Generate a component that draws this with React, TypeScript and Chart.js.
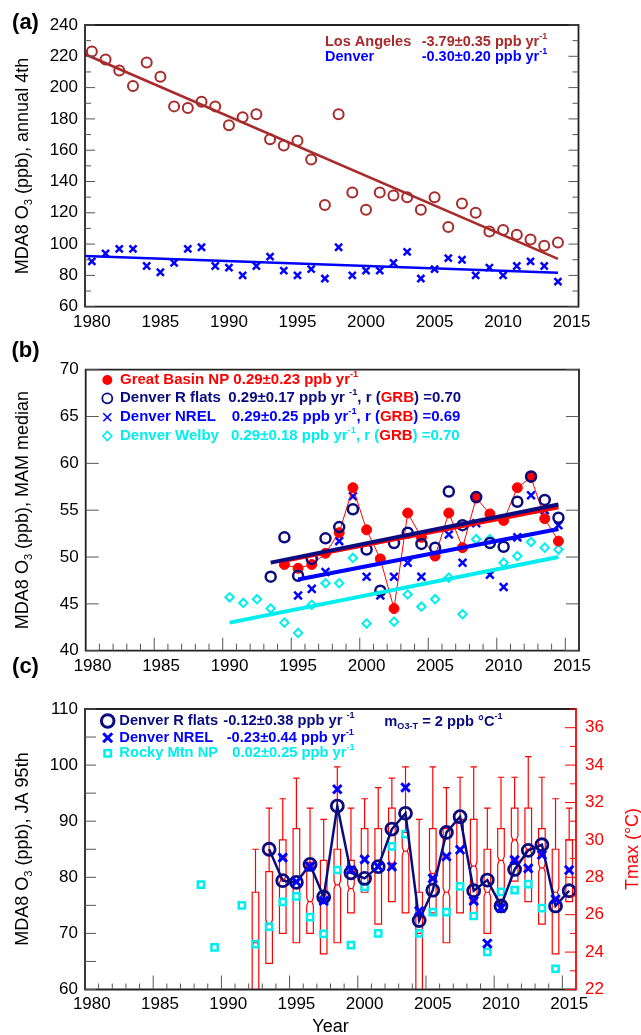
import React, { useEffect, useRef } from "react";
import { Chart, registerables } from "chart.js";
Chart.register(...registerables);

const FONT = "'Liberation Sans', Arial, Helvetica, sans-serif";
const NAVY = "#0b0b80";
const BLUE = "#0000ff";
const CYAN = "#00eeee";
const RED = "#ff0000";
const LA_RED = "#a82a2a";
const FRAME = "#222222";
const TICK = "#555555";

// ---------- shared axis labels ----------
const X_LABEL_YEARS = [1980, 1985, 1990, 1995, 2000, 2005, 2010, 2015];
const A_Y_LABELS = [60, 80, 100, 120, 140, 160, 180, 200, 220, 240];
const B_Y_LABELS = [40, 45, 50, 55, 60, 65, 70];
const C_Y_LABELS = [60, 70, 80, 90, 100, 110];
const C_Y2_LABELS = [22, 24, 26, 28, 30, 32, 34, 36];

// ---------- panel (a) ----------
const A_YEARS = [1980, 1981, 1982, 1983, 1984, 1985, 1986, 1987, 1988, 1989, 1990, 1991, 1992, 1993, 1994, 1995, 1996, 1997, 1998, 1999, 2000, 2001, 2002, 2003, 2004, 2005, 2006, 2007, 2008, 2009, 2010, 2011, 2012, 2013, 2014];
const LA_VALUES = [223, 218, 211, 201, 216, 207, 188, 187, 191, 188, 176, 181, 183, 167, 163, 166, 154, 125, 183, 133, 122, 133, 131, 130, 122, 130, 111, 126, 120, 108, 109, 106, 103, 99, 101];
const DENVER_A_VALUES = [89, 94, 97, 97, 86, 82, 88, 97, 98, 86, 85, 80, 86, 92, 83, 80, 84, 78, 98, 80, 83, 83, 88, 95, 78, 84, 91, 90, 80, 85, 80, 86, 89, 86, 76];
const LA_TREND_X = [1979.5, 2014];
const LA_TREND_Y = [221.3, 90.5];
const DENVER_A_TREND_X = [1979.5, 2014];
const DENVER_A_TREND_Y = [92.4, 81.7];

// ---------- panel (b) ----------
const GRB_YEARS = [1994, 1995, 1996, 1997, 1998, 1999, 2000, 2001, 2002, 2003, 2004, 2005, 2006, 2007, 2008, 2009, 2010, 2011, 2012, 2013, 2014];
const GRB_VALUES = [49.2, 48.8, 49.2, 50.4, 52.6, 57.4, 52.9, 49.8, 44.5, 54.7, 52.1, 50.1, 54.7, 51.0, 56.3, 54.6, 53.9, 57.4, 58.5, 54.1, 51.7];
const RFLATS_B_YEARS = [1993, 1994, 1995, 1996, 1997, 1998, 1999, 2000, 2001, 2002, 2003, 2004, 2005, 2006, 2007, 2008, 2009, 2010, 2011, 2012, 2013, 2014];
const RFLATS_B_VALUES = [47.9, 52.1, 48.0, 49.8, 52.0, 53.2, 55.1, 50.8, 46.4, 51.5, 52.6, 51.4, 51.0, 57.0, 53.4, 56.4, 51.5, 51.1, 55.9, 58.6, 56.1, 54.2];
const NREL_B_YEARS = [1995, 1996, 1997, 1998, 1999, 2000, 2001, 2002, 2003, 2004, 2005, 2006, 2007, 2008, 2009, 2010, 2011, 2012, 2013, 2014];
const NREL_B_VALUES = [45.9, 46.6, 48.4, 51.7, 56.5, 47.9, 45.9, 47.9, 49.4, 47.9, 50.2, 52.4, 49.4, 53.6, 48.1, 46.8, 52.1, 56.6, 55.0, 53.4];
const WELBY_YEARS = [1990, 1991, 1992, 1993, 1994, 1995, 1996, 1997, 1998, 1999, 2000, 2002, 2003, 2004, 2005, 2006, 2007, 2008, 2009, 2010, 2011, 2012, 2013, 2014];
const WELBY_VALUES = [45.7, 45.1, 45.5, 44.5, 43.0, 41.9, 44.9, 47.2, 47.2, 49.9, 42.9, 43.1, 46.0, 44.7, 45.5, 47.8, 43.9, 51.9, 51.9, 49.4, 50.1, 51.6, 51.0, 50.8];
const RFLATS_B_TREND_X = [1993, 2014];
const RFLATS_B_TREND_Y = [49.4, 55.6];
const GRB_TREND_X = [1994, 2014];
const GRB_TREND_Y = [49.6, 55.3];
const NREL_B_TREND_X = [1995, 2014];
const NREL_B_TREND_Y = [47.6, 53.0];
const WELBY_TREND_X = [1990, 2014];
const WELBY_TREND_Y = [43.0, 50.0];

// ---------- panel (c) ----------
const RFLATS_C_YEARS = [1993, 1994, 1995, 1996, 1997, 1998, 1999, 2000, 2001, 2002, 2003, 2004, 2005, 2006, 2007, 2008, 2009, 2010, 2011, 2012, 2013, 2014, 2015];
const RFLATS_C_VALUES = [85.0, 79.4, 79.1, 82.3, 76.5, 92.7, 80.8, 79.8, 81.9, 88.6, 91.4, 72.3, 77.7, 88.0, 90.8, 77.6, 79.5, 74.9, 81.4, 84.8, 85.8, 74.9, 77.6];
const NREL_C_YEARS = [1994, 1995, 1996, 1997, 1998, 1999, 2000, 2001, 2002, 2003, 2004, 2005, 2006, 2007, 2008, 2009, 2010, 2011, 2012, 2013, 2014, 2015];
const NREL_C_VALUES = [83.5, 79.2, 81.9, 75.8, 95.7, 81.3, 83.2, 81.9, 81.9, 96.0, 74.0, 79.8, 83.7, 84.9, 75.8, 68.2, 74.5, 83.1, 81.6, 84.0, 76.1, 81.3];
const ROCKY_YEARS = [1988, 1989, 1991, 1992, 1993, 1994, 1995, 1996, 1997, 1998, 1999, 2000, 2001, 2002, 2003, 2004, 2005, 2006, 2007, 2008, 2009, 2010, 2011, 2012, 2013, 2014];
const ROCKY_VALUES = [78.7, 67.5, 75.0, 68.1, 71.2, 75.6, 76.6, 72.9, 69.9, 81.3, 67.9, 78.3, 70.0, 85.5, 87.7, 70.0, 73.8, 73.8, 78.4, 73.1, 66.7, 77.4, 77.7, 78.8, 74.5, 63.7];
const TMAX_YEARS = [1992, 1993, 1994, 1995, 1996, 1997, 1998, 1999, 2000, 2001, 2002, 2003, 2004, 2005, 2006, 2007, 2008, 2009, 2010, 2011, 2012, 2013, 2014, 2015];
const TMAX_LOW = [19.0, 23.4, 25.0, 24.5, 25.0, 23.9, 24.5, 26.1, 27.2, 25.5, 26.7, 26.1, 19.0, 26.1, 24.5, 26.1, 26.1, 25.0, 26.7, 27.8, 26.7, 25.5, 23.9, 26.7];
const TMAX_Q1 = [20.5, 23.4, 25.0, 24.5, 25.0, 23.9, 24.5, 26.1, 27.2, 25.5, 26.7, 26.1, 20.5, 26.1, 24.5, 26.1, 26.1, 25.0, 26.7, 27.8, 26.7, 25.5, 23.9, 26.7];
const TMAX_MED = [24.5, 25.5, 27.9, 27.7, 26.7, 27.1, 27.6, 27.4, 28.9, 28.6, 28.75, 29.4, 25.0, 28.2, 27.2, 29.5, 28.6, 27.2, 28.9, 30.0, 29.5, 28.5, 27.2, 28.3];
const TMAX_Q3 = [27.2, 28.3, 30.0, 30.6, 28.8, 28.9, 29.5, 28.9, 30.6, 30.6, 31.7, 30.4, 27.2, 30.6, 30.6, 31.1, 31.1, 29.5, 30.6, 31.7, 31.7, 30.6, 29.5, 30.0];
const TMAX_HIGH = [29.5, 31.7, 32.2, 33.3, 31.7, 31.1, 33.9, 31.7, 32.2, 32.8, 33.3, 33.9, 31.1, 33.9, 32.8, 33.35, 33.9, 31.7, 33.35, 33.35, 34.45, 33.35, 32.2, 31.7];

// ---------- helpers ----------
type Seg = [string, string, ("sup" | "sub")?];

function drawRich(ctx: CanvasRenderingContext2D, x: number, y: number, segs: Seg[], size: number, bold: boolean, align: "left" | "center" = "left") {
  const w = bold ? "bold " : "";
  const fontFor = (k?: string) => `${w}${k ? size * 0.62 : size}px ${FONT}`;
  ctx.textBaseline = "middle";
  ctx.textAlign = "left";
  let total = 0;
  for (const [t, , k] of segs) {
    ctx.font = fontFor(k);
    total += ctx.measureText(t).width;
  }
  let cx = align === "center" ? x - total / 2 : x;
  for (const [t, c, k] of segs) {
    ctx.font = fontFor(k);
    ctx.fillStyle = c;
    const dy = k === "sup" ? -size * 0.38 : k === "sub" ? size * 0.3 : 0;
    ctx.fillText(t, cx, y + dy);
    cx += ctx.measureText(t).width;
  }
  return cx;
}

function drawVertical(ctx: CanvasRenderingContext2D, cx: number, cy: number, segs: Seg[], size: number) {
  ctx.save();
  ctx.translate(cx, cy);
  ctx.rotate(-Math.PI / 2);
  drawRich(ctx, 0, 0, segs, size, false, "center");
  ctx.restore();
}

function line(ctx: CanvasRenderingContext2D, x0: number, y0: number, x1: number, y1: number) {
  ctx.beginPath();
  ctx.moveTo(x0, y0);
  ctx.lineTo(x1, y1);
  ctx.stroke();
}

function range(a: number, b: number, s: number) {
  const out: number[] = [];
  for (let v = a; v <= b + 1e-9; v += s) out.push(v);
  return out;
}

function yTicks(chart: any, id: string, values: number[], len: number, side: "left" | "right", color = TICK) {
  const ctx = chart.ctx;
  const s = chart.scales[id];
  const { left, right } = chart.chartArea;
  ctx.strokeStyle = color;
  ctx.lineWidth = 1;
  values.forEach((v) => {
    const py = s.getPixelForValue(v);
    if (side === "left") line(ctx, left, py, left + len, py);
    else line(ctx, right, py, right - len, py);
  });
}

function xTicks(chart: any, majorLen: number, minorLen: number) {
  const ctx = chart.ctx;
  const s = chart.scales.x;
  const { bottom } = chart.chartArea;
  ctx.strokeStyle = TICK;
  ctx.lineWidth = 1;
  for (let yr = 1981; yr <= 2015; yr++) {
    const px = s.getPixelForValue(yr);
    line(ctx, px, bottom, px, bottom - (yr % 5 === 0 ? majorLen : minorLen));
  }
}

function frame(chart: any, rightColor = FRAME) {
  const ctx = chart.ctx;
  const { left, right, top, bottom } = chart.chartArea;
  ctx.lineWidth = 1.8;
  ctx.strokeStyle = FRAME;
  ctx.beginPath();
  ctx.moveTo(right, top);
  ctx.lineTo(left, top);
  ctx.lineTo(left, bottom);
  ctx.lineTo(right, bottom);
  ctx.stroke();
  ctx.strokeStyle = rightColor;
  line(ctx, right, top - 0.9, right, bottom + 0.9);
}

const pts = (xs: number[], ys: number[]) => xs.map((x, i) => ({ x: x + 0.5, y: ys[i] }));

function markers(data: any[], style: string, r: number, bw: number, color: string, fill = "rgba(0,0,0,0)", yAxisID = "y") {
  return {
    data, yAxisID, showLine: false, pointStyle: style, pointRadius: r, pointHoverRadius: r,
    pointBorderWidth: bw, pointHoverBorderWidth: bw, pointBorderColor: color, pointBackgroundColor: fill,
    borderColor: color, backgroundColor: fill, clip: false,
  };
}

function lineDs(data: any[], color: string, width: number) {
  return {
    data, showLine: true, pointRadius: 0, pointHoverRadius: 0, borderColor: color, borderWidth: width,
    fill: false, tension: 0, borderCapStyle: "butt",
  };
}

function xScale(height: number, padding: number) {
  return {
    type: "linear", min: 1980, max: 2016, position: "bottom",
    grid: { display: false, drawTicks: false }, border: { display: false },
    ticks: {
      autoSkip: false, maxRotation: 0, minRotation: 0, padding, color: "#000",
      font: { family: FONT, size: 17 },
      callback: (v: number) => String(Math.floor(v)),
    },
    afterBuildTicks: (s: any) => { s.ticks = X_LABEL_YEARS.map((y) => ({ value: y + 0.5 })); },
    afterFit: (s: any) => { s.height = height; },
  };
}

function yScale(min: number, max: number, labels: number[], width: number, padding: number, position = "left", color = "#000") {
  return {
    type: "linear", min, max, position,
    grid: { display: false, drawTicks: false }, border: { display: false },
    ticks: { autoSkip: false, padding, color, font: { family: FONT, size: 17 } },
    afterBuildTicks: (s: any) => { s.ticks = labels.map((v) => ({ value: v })); },
    afterFit: (s: any) => { s.width = width; },
  };
}

const baseOptions = {
  responsive: false,
  animation: false,
  events: [],
  plugins: { legend: { display: false }, tooltip: { enabled: false } },
};

const O3_TITLE = (rest: string): Seg[] => [["MDA8 O", "#000"], ["3", "#000", "sub"], [rest, "#000"]];

// ---------- panel configs ----------
function configA(): any {
  const plugin = {
    id: "panelA",
    afterDraw(chart: any) {
      const ctx = chart.ctx;
      ctx.save();
      frame(chart);
      yTicks(chart, "y", range(60, 240, 20), 10, "left");
      yTicks(chart, "y", range(60, 240, 20), 10, "right");
      yTicks(chart, "y", range(70, 230, 20), 6, "left");
      yTicks(chart, "y", range(70, 230, 20), 6, "right");
      drawRich(ctx, 325, 41.7, [["Los Angeles", LA_RED]], 14.5, true);
      drawRich(ctx, 421.7, 41.7, [["-3.79\u00b10.35 ppb yr", LA_RED], ["-1", LA_RED, "sup"]], 14.5, true);
      drawRich(ctx, 325, 57.3, [["Denver", BLUE]], 14.5, true);
      drawRich(ctx, 421.7, 57.3, [["-0.30\u00b10.20 ppb yr", BLUE], ["-1", BLUE, "sup"]], 14.5, true);
      drawVertical(ctx, 23.5, 166, O3_TITLE(" (ppb), annual 4th"), 18);
      drawRich(ctx, 25.5, 22.5, [["(a)", "#000"]], 22, true, "center");
      ctx.restore();
    },
  };
  return {
    type: "line",
    data: {
      datasets: [
        lineDs(pts(LA_TREND_X, LA_TREND_Y), LA_RED, 2.5),
        lineDs(pts(DENVER_A_TREND_X, DENVER_A_TREND_Y), BLUE, 2.5),
        markers(pts(A_YEARS, LA_VALUES), "circle", 5, 2, LA_RED),
        markers(pts(A_YEARS, DENVER_A_VALUES), "crossRot", 5, 2.5, BLUE),
      ],
    },
    options: {
      ...baseOptions,
      layout: { padding: { left: 0, right: 62.5, top: 25, bottom: 0 } },
      scales: { x: xScale(28.3, 5), y: yScale(60, 240, A_Y_LABELS, 85, 7) },
    },
    plugins: [plugin],
  };
}

function configB(): any {
  const plugin = {
    id: "panelB",
    afterDraw(chart: any) {
      const ctx = chart.ctx;
      ctx.save();
      frame(chart);
      yTicks(chart, "y", range(40, 70, 5), 13, "left");
      yTicks(chart, "y", range(40, 70, 5), 13, "right");
      xTicks(chart, 13, 7);
      // legend markers
      const mx = 107.3;
      ctx.fillStyle = RED;
      ctx.beginPath(); ctx.arc(mx, 45, 5, 0, Math.PI * 2); ctx.fill();
      ctx.strokeStyle = NAVY; ctx.lineWidth = 1.8;
      ctx.beginPath(); ctx.arc(mx, 63.3, 5, 0, Math.PI * 2); ctx.stroke();
      ctx.strokeStyle = BLUE; ctx.lineWidth = 1.6;
      line(ctx, mx - 4, 82.3 - 4, mx + 4, 82.3 + 4); line(ctx, mx - 4, 82.3 + 4, mx + 4, 82.3 - 4);
      ctx.strokeStyle = CYAN; ctx.lineWidth = 1.6;
      ctx.beginPath(); ctx.moveTo(mx - 4.5, 101); ctx.lineTo(mx, 96.5); ctx.lineTo(mx + 4.5, 101); ctx.lineTo(mx, 105.5); ctx.closePath(); ctx.stroke();
      const S = 15;
      drawRich(ctx, 120, 45, [["Great Basin NP 0.29\u00b10.23 ppb yr", RED], ["-1", RED, "sup"]], S, true);
      drawRich(ctx, 120, 63.3, [["Denver R flats", NAVY]], S, true);
      drawRich(ctx, 228.3, 63.3, [["0.29\u00b10.17 ppb yr ", NAVY], ["-1", NAVY, "sup"], [", r (", NAVY], ["GRB", RED], [") =0.70", NAVY]], S, true);
      drawRich(ctx, 120, 82.3, [["Denver NREL", BLUE]], S, true);
      drawRich(ctx, 231.7, 82.3, [["0.29\u00b10.25 ppb yr", BLUE], ["-1", BLUE, "sup"], [", r (", BLUE], ["GRB", RED], [") =0.69", BLUE]], S, true);
      drawRich(ctx, 120, 101, [["Denver Welby", CYAN]], S, true);
      drawRich(ctx, 231, 101, [["0.29\u00b10.18 ppb yr", CYAN], ["-1", CYAN, "sup"], [", r (", CYAN], ["GRB", RED], [") =0.70", CYAN]], S, true);
      drawVertical(ctx, 23.5, 175, O3_TITLE(" (ppb), MAM median"), 18);
      drawRich(ctx, 25.5, 16, [["(b)", "#000"]], 22, true, "center");
      ctx.restore();
    },
  };
  return {
    type: "line",
    data: {
      datasets: [
        lineDs(pts(RFLATS_B_TREND_X, RFLATS_B_TREND_Y), NAVY, 4),
        lineDs(pts(GRB_TREND_X, GRB_TREND_Y), RED, 4),
        lineDs(pts(NREL_B_TREND_X, NREL_B_TREND_Y), BLUE, 4),
        lineDs(pts(WELBY_TREND_X, WELBY_TREND_Y), CYAN, 4),
        markers(pts(RFLATS_B_YEARS, RFLATS_B_VALUES), "circle", 5, 2.5, NAVY),
        { ...markers(pts(GRB_YEARS, GRB_VALUES), "circle", 5, 1, RED, RED), showLine: true, borderWidth: 1, borderColor: RED, tension: 0, fill: false },
        markers(pts(NREL_B_YEARS, NREL_B_VALUES), "crossRot", 5.5, 2.5, BLUE),
        markers(pts(WELBY_YEARS, WELBY_VALUES), "rectRot", 4.2, 2, CYAN),
      ],
    },
    options: {
      ...baseOptions,
      layout: { padding: { left: 0, right: 62, top: 34.7, bottom: 0 } },
      scales: { x: xScale(29.3, 5), y: yScale(40, 70, B_Y_LABELS, 85.7, 7) },
    },
    plugins: [plugin],
  };
}

function configC(): any {
  const boxes = {
    id: "tmaxBoxes",
    beforeDatasetsDraw(chart: any) {
      const ctx = chart.ctx;
      const xs = chart.scales.x;
      const ys = chart.scales.y2;
      const ca = chart.chartArea;
      ctx.save();
      ctx.beginPath();
      ctx.rect(ca.left, ca.top, ca.right - ca.left, ca.bottom - ca.top);
      ctx.clip();
      ctx.strokeStyle = RED;
      ctx.lineWidth = 1.2;
      TMAX_YEARS.forEach((yr, i) => {
        const px = xs.getPixelForValue(yr + 0.5);
        const hw = 3.3;
        const nw = 1.8;
        const pLo = ys.getPixelForValue(TMAX_LOW[i]);
        const pQ1 = ys.getPixelForValue(TMAX_Q1[i]);
        const pMed = ys.getPixelForValue(TMAX_MED[i]);
        const pQ3 = ys.getPixelForValue(TMAX_Q3[i]);
        const pHi = ys.getPixelForValue(TMAX_HIGH[i]);
        const notch = Math.min(4, Math.max(2, (pQ1 - pQ3) * 0.08));
        line(ctx, px, pQ3, px, pHi);
        line(ctx, px - hw, pHi, px + hw, pHi);
        if (TMAX_LOW[i] < TMAX_Q1[i]) {
          line(ctx, px, pQ1, px, pLo);
        }
        ctx.beginPath();
        ctx.moveTo(px - hw, pQ3);
        ctx.lineTo(px + hw, pQ3);
        ctx.lineTo(px + hw, pMed - notch);
        ctx.lineTo(px + nw, pMed);
        ctx.lineTo(px + hw, pMed + notch);
        ctx.lineTo(px + hw, pQ1);
        ctx.lineTo(px - hw, pQ1);
        ctx.lineTo(px - hw, pMed + notch);
        ctx.lineTo(px - nw, pMed);
        ctx.lineTo(px - hw, pMed - notch);
        ctx.closePath();
        ctx.stroke();
        line(ctx, px - nw, pMed, px + nw, pMed);
      });
      ctx.restore();
    },
  };
  const plugin = {
    id: "panelC",
    afterDraw(chart: any) {
      const ctx = chart.ctx;
      ctx.save();
      frame(chart, RED);
      yTicks(chart, "y", range(60, 110, 5), 11, "left");
      yTicks(chart, "y2", range(22, 36, 2), 11, "right", RED);
      yTicks(chart, "y2", range(23, 37, 2), 6, "right", RED);
      xTicks(chart, 14, 6);
      const mx = 107.7;
      ctx.strokeStyle = NAVY; ctx.lineWidth = 3;
      ctx.beginPath(); ctx.arc(mx, 81, 6.3, 0, Math.PI * 2); ctx.stroke();
      ctx.strokeStyle = BLUE; ctx.lineWidth = 3;
      line(ctx, mx - 4.5, 97.7 - 4.5, mx + 4.5, 97.7 + 4.5); line(ctx, mx - 4.5, 97.7 + 4.5, mx + 4.5, 97.7 - 4.5);
      ctx.strokeStyle = CYAN; ctx.lineWidth = 2.5;
      ctx.strokeRect(mx - 3.2, 113.3 - 3.2, 6.4, 6.4);
      const S = 14.7;
      drawRich(ctx, 119.3, 81, [["Denver R flats", NAVY]], S, true);
      drawRich(ctx, 223.3, 81, [["-0.12\u00b10.38 ppb yr ", NAVY], ["-1", NAVY, "sup"]], S, true);
      drawRich(ctx, 119.3, 97.7, [["Denver NREL", BLUE]], S, true);
      drawRich(ctx, 226.7, 97.7, [["-0.23\u00b10.44 ppb yr", BLUE], ["-1", BLUE, "sup"]], S, true);
      drawRich(ctx, 119.3, 113.3, [["Rocky Mtn NP", CYAN]], S, true);
      drawRich(ctx, 232.3, 113.3, [["0.02\u00b10.25 ppb yr", CYAN], ["-1", CYAN, "sup"]], S, true);
      drawRich(ctx, 384.3, 81.7, [["m", NAVY], ["O3-T", NAVY, "sub"], [" = 2 ppb \u00b0C", NAVY], ["-1", NAVY, "sup"]], S, true);
      drawVertical(ctx, 23.5, 209, O3_TITLE(" (ppb), JA 95th"), 18);
      ctx.save();
      ctx.translate(633, 209);
      ctx.rotate(-Math.PI / 2);
      drawRich(ctx, 0, 0, [["Tmax (\u00b0C)", RED]], 18, false, "center");
      ctx.restore();
      drawRich(ctx, 330.5, 387, [["Year", "#000"]], 18, false, "center");
      drawRich(ctx, 25.5, 27, [["(c)", "#000"]], 22, true, "center");
      ctx.restore();
    },
  };
  return {
    type: "line",
    data: {
      datasets: [
        markers(pts(NREL_C_YEARS, NREL_C_VALUES), "crossRot", 6, 3, BLUE),
        { ...markers(pts(RFLATS_C_YEARS, RFLATS_C_VALUES), "circle", 6, 2.8, NAVY), showLine: true, borderWidth: 2.5, borderColor: NAVY, tension: 0, fill: false },
        markers(pts(ROCKY_YEARS, ROCKY_VALUES), "rect", 4.4, 2.5, CYAN),
      ],
    },
    options: {
      ...baseOptions,
      layout: { padding: { left: 0, right: 0, top: 69, bottom: 0 } },
      scales: {
        x: xScale(45.5, 5),
        y: yScale(60, 110, C_Y_LABELS, 85, 7),
        y2: yScale(22, 37, C_Y2_LABELS, 65, 9, "right", RED),
      },
    },
    plugins: [boxes, plugin],
  };
}

export default function App() {
  const a = useRef<HTMLCanvasElement>(null);
  const b = useRef<HTMLCanvasElement>(null);
  const c = useRef<HTMLCanvasElement>(null);
  useEffect(() => {
    const charts = [
      new Chart(a.current as HTMLCanvasElement, configA()),
      new Chart(b.current as HTMLCanvasElement, configB()),
      new Chart(c.current as HTMLCanvasElement, configC()),
    ];
    return () => charts.forEach((ch) => ch.destroy());
  }, []);
  const cs = (top: number, h: number): React.CSSProperties => ({ position: "absolute", left: 0, top, width: 641, height: h });
  return (
    <div style={{ position: "absolute", left: 0, top: 0, width: 641, height: 1035, background: "#fff", overflow: "hidden" }}>
      <canvas ref={a} width={641} height={335} style={cs(0, 335)} />
      <canvas ref={b} width={641} height={345} style={cs(335, 345)} />
      <canvas ref={c} width={641} height={395} style={cs(640, 395)} />
    </div>
  );
}
